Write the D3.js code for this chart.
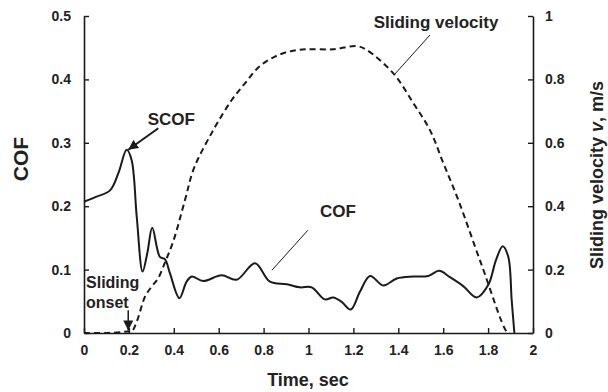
<!DOCTYPE html>
<html>
<head>
<meta charset="utf-8">
<script src="https://cdn.jsdelivr.net/npm/d3@7"></script>
<style>
  body { margin: 0; background: #fff; }
  svg { font-family: "Liberation Sans", Arial, sans-serif; }
</style>
</head>
<body>
<svg id="chart" width="608" height="392"></svg>
<script>
// time (s) and COF readings
const cofTime = [0, 0.056, 0.116, 0.153, 0.19, 0.212, 0.235, 0.261, 0.282, 0.304, 0.338, 0.361, 0.383, 0.425, 0.457, 0.48, 0.531, 0.613, 0.68, 0.762, 0.828, 0.903, 0.962, 1.014, 1.073, 1.11, 1.148, 1.188, 1.229, 1.274, 1.333, 1.393, 1.467, 1.533, 1.582, 1.63, 1.689, 1.749, 1.801, 1.835, 1.865, 1.89, 1.905, 1.917];
const cofValue = [0.207, 0.215, 0.225, 0.252, 0.289, 0.273, 0.183, 0.097, 0.126, 0.166, 0.12, 0.116, 0.094, 0.055, 0.081, 0.089, 0.082, 0.091, 0.084, 0.11, 0.081, 0.077, 0.072, 0.072, 0.053, 0.056, 0.049, 0.037, 0.065, 0.09, 0.075, 0.086, 0.089, 0.09, 0.098, 0.088, 0.074, 0.056, 0.076, 0.115, 0.137, 0.12, 0.052, 0];

// time (s) and sliding velocity (m/s)
const velTime = [0, 0.1, 0.17, 0.195, 0.212, 0.235, 0.272, 0.3, 0.33, 0.362, 0.398, 0.45, 0.49, 0.576, 0.658, 0.72, 0.78, 0.85, 0.92, 0.992, 1.11, 1.215, 1.259, 1.378, 1.467, 1.541, 1.6, 1.667, 1.774, 1.883, 1.895];
const velValue = [0, 0, 0.003, 0.005, 0.004, 0.036, 0.115, 0.145, 0.172, 0.225, 0.29, 0.42, 0.52, 0.64, 0.735, 0.79, 0.84, 0.872, 0.889, 0.895, 0.895, 0.905, 0.893, 0.819, 0.725, 0.64, 0.537, 0.42, 0.209, 0.004, 0];

const timeTicks = [0, 0.2, 0.4, 0.6, 0.8, 1, 1.2, 1.4, 1.6, 1.8, 2];
const timeLabels = ["0", "0.2", "0.4", "0.6", "0.8", "1", "1.2", "1.4", "1.6", "1.8", "2"];
const cofTicks = [0, 0.1, 0.2, 0.3, 0.4, 0.5];
const cofLabels = ["0", "0.1", "0.2", "0.3", "0.4", "0.5"];
const velTicks = [0, 0.2, 0.4, 0.6, 0.8, 1];
const velLabels = ["0", "0.2", "0.4", "0.6", "0.8", "1"];

const svg = d3.select("#chart");
const ink = "#1a1a1a";

const x = d3.scaleLinear().domain([0, 2]).range([84, 533]);
const yL = d3.scaleLinear().domain([0, 0.5]).range([333, 16]);
const yR = d3.scaleLinear().domain([0, 1]).range([333, 16]);

svg.append("defs").append("marker")
  .attr("id", "arrow")
  .attr("viewBox", "0 0 10 10")
  .attr("refX", 10).attr("refY", 5)
  .attr("markerWidth", 10).attr("markerHeight", 10)
  .attr("markerUnits", "userSpaceOnUse")
  .attr("orient", "auto")
  .append("path")
  .attr("d", "M0,0 L10,5 L0,10 z")
  .attr("fill", ink);

// axes
const styleAxis = g => {
  g.select(".domain").attr("stroke", ink).attr("stroke-width", 1.6);
  g.selectAll(".tick line").attr("stroke", ink).attr("stroke-width", 1.4);
  g.selectAll(".tick text").attr("fill", "#222").attr("font-size", 14).attr("font-weight", "bold");
};

svg.append("g")
  .attr("transform", "translate(0,333)")
  .call(d3.axisBottom(x).tickValues(timeTicks).tickFormat((d, i) => timeLabels[i])
    .tickSizeInner(-5).tickSizeOuter(0).tickPadding(12))
  .call(styleAxis);

svg.append("g")
  .attr("transform", "translate(84,0)")
  .call(d3.axisLeft(yL).tickValues(cofTicks).tickFormat((d, i) => cofLabels[i])
    .tickSizeInner(-5).tickSizeOuter(0).tickPadding(13))
  .call(styleAxis);

svg.append("g")
  .attr("transform", "translate(533,0)")
  .call(d3.axisRight(yR).tickValues(velTicks).tickFormat((d, i) => velLabels[i])
    .tickSizeInner(-5).tickSizeOuter(0).tickPadding(12))
  .call(styleAxis);

// axis titles
svg.append("text")
  .attr("x", 308).attr("y", 386)
  .attr("text-anchor", "middle")
  .attr("font-size", 18).attr("font-weight", "bold").attr("fill", "#222")
  .text("Time, sec");

svg.append("text")
  .attr("transform", "translate(28,159) rotate(-90)")
  .attr("text-anchor", "middle")
  .attr("font-size", 21).attr("font-weight", "bold").attr("fill", "#222")
  .text("COF");

const rTitle = svg.append("text")
  .attr("transform", "translate(603,175) rotate(-90)")
  .attr("text-anchor", "middle")
  .attr("font-size", 18).attr("font-weight", "bold").attr("fill", "#222");
rTitle.append("tspan").text("Sliding velocity ");
rTitle.append("tspan").attr("font-style", "italic").text("v");
rTitle.append("tspan").text(", m/s");

// curves
const cofData = cofTime.map((t, i) => [t, cofValue[i]]);
const velData = velTime.map((t, i) => [t, velValue[i]]);

svg.append("path")
  .datum(velData)
  .attr("fill", "none")
  .attr("stroke", ink)
  .attr("stroke-width", 2)
  .attr("stroke-dasharray", "6,4")
  .attr("d", d3.line().x(d => x(d[0])).y(d => yR(d[1])).curve(d3.curveCatmullRom.alpha(0.5)));

svg.append("path")
  .datum(cofData)
  .attr("fill", "none")
  .attr("stroke", ink)
  .attr("stroke-width", 2)
  .attr("d", d3.line().x(d => x(d[0])).y(d => yL(d[1])).curve(d3.curveCatmullRom.alpha(0.5)));

// annotations (in data units)
const label = (t, v, scale, txt, size, anchor) => svg.append("text")
  .attr("x", x(t)).attr("y", scale(v))
  .attr("text-anchor", anchor)
  .attr("font-size", size).attr("font-weight", "bold").attr("fill", "#222")
  .text(txt);

label(0.389, 0.328, yL, "SCOF", 17, "middle");
svg.append("line")
  .attr("x1", x(0.331)).attr("y1", yL(0.323))
  .attr("x2", x(0.197)).attr("y2", yL(0.289))
  .attr("stroke", ink).attr("stroke-width", 2)
  .attr("marker-end", "url(#arrow)");

label(1.131, 0.183, yL, "COF", 17, "middle");
svg.append("line")
  .attr("x1", x(0.997)).attr("y1", yL(0.162))
  .attr("x2", x(0.837)).attr("y2", yL(0.099))
  .attr("stroke", ink).attr("stroke-width", 1);

label(1.568, 0.962, yR, "Sliding velocity", 17, "middle");
svg.append("line")
  .attr("x1", x(1.541)).attr("y1", yR(0.94))
  .attr("x2", x(1.385)).attr("y2", yR(0.817))
  .attr("stroke", ink).attr("stroke-width", 1);

label(0.009, 0.071, yL, "Sliding", 16, "start");
label(0.009, 0.039, yL, "onset", 16, "start");
svg.append("line")
  .attr("x1", x(0.197)).attr("y1", yL(0.036))
  .attr("x2", x(0.197)).attr("y2", yL(0.004))
  .attr("stroke", ink).attr("stroke-width", 1.5)
  .attr("marker-end", "url(#arrow)");
</script>
</body>
</html>
